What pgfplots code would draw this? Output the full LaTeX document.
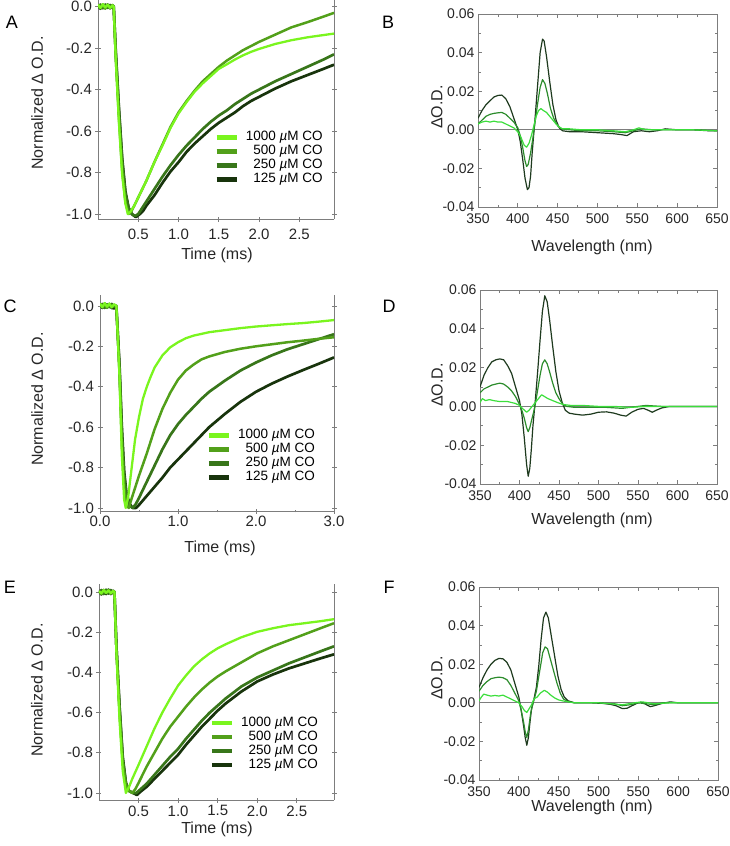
\documentclass[border=0pt]{standalone}
\usepackage{fontspec}
\setmainfont{Liberation Sans}
\usepackage{pgfplots}
\pgfplotsset{compat=1.18}

\definecolor{axgray}{RGB}{125,125,125}
\definecolor{c1000}{RGB}{122,245,30}
\definecolor{c500}{RGB}{82,160,26}
\definecolor{c250}{RGB}{56,118,26}
\definecolor{c125}{RGB}{24,52,12}
\definecolor{sdark}{RGB}{30,58,30}
\definecolor{smed}{RGB}{44,140,44}
\definecolor{sbright}{RGB}{60,222,60}

\pgfkeys{/pgf/number format/assume math mode=true}

\pgfplotsset{
  kin/.style={
    scale only axis,
    axis x line=bottom, axis y line=box,
    axis line style={-, draw=axgray, line width=0.9pt},
    tick style={axgray, line width=0.8pt},
    tick align=center, major tick length=5pt,
    ytick={-1,-0.8,-0.6,-0.4,-0.2,0},
    yticklabel style={/pgf/number format/fixed, /pgf/number format/fixed zerofill, /pgf/number format/precision=1},
    xticklabel style={/pgf/number format/fixed, /pgf/number format/fixed zerofill, /pgf/number format/precision=1},
    tick label style={font=\fontsize{15}{15}\selectfont, text=black!85},
    ylabel={Normalized Δ O.D.}, xlabel={Time (ms)},
    label style={font=\fontsize{16}{16}\selectfont, text=black!85},
    legend cell align=right, reverse legend,
    legend image code/.code={\draw[##1, line width=4.5pt] (0pt,0pt) -- (20pt,0pt);},
    every axis plot/.append style={line width=2.7pt, line join=round},
  },
  kinlegend/.style={
    legend style={at={(#1)}, anchor=north east, draw=none, fill=none,
      inner sep=0pt, row sep=0pt, font=\fontsize{13.5}{13.5}\selectfont,
      nodes={inner sep=0pt, text height=10pt, text depth=4pt},
      /tikz/every odd column/.append style={column sep=7pt}},
  },
  spec/.style={
    scale only axis,
    xmin=350, xmax=650, ymin=-0.04, ymax=0.06,
    xtick={350,400,...,650}, ytick={-0.04,-0.02,0,0.02,0.04,0.06},
    scaled y ticks=false,
    minor x tick num=1, minor y tick num=1,
    tick align=inside,
    axis line style={draw=axgray, line width=0.9pt},
    tick style={axgray, line width=0.7pt},
    major tick length=4pt, minor tick length=2.5pt,
    yticklabel style={/pgf/number format/fixed, /pgf/number format/fixed zerofill, /pgf/number format/precision=2},
    xticklabel style={yshift=-3pt},
    tick label style={font=\fontsize{14}{14}\selectfont, text=black!85},
    ylabel={ΔO.D.}, xlabel={Wavelength (nm)},
    label style={font=\fontsize{16}{16}\selectfont, text=black!85},
    every axis plot/.append style={line width=1.2pt, line join=round},
  },
}

\begin{document}
\begin{tikzpicture}
\useasboundingbox (0,0) rectangle (729pt,-846pt);

% ---------------- A : kinetics ----------------
\begin{axis}[kin, at={(98pt,-219pt)}, anchor=south west, width=236pt, height=219pt,
  xmin=0, xmax=2.93, ymin=-1.024, ymax=0.032,
  xtick={0.5,1,1.5,2,2.5}, xticklabel style={yshift=-4pt},
  xlabel style={at={(axis description cs:0.504,-0.164)}, anchor=center},
  ylabel style={at={(axis description cs:-0.258,0.53)}, anchor=center},
  kinlegend={0.953,0.406}]
\addplot[c125] coordinates {(0,0.008) (0.03,-0.01) (0.06,0.01) (0.09,-0.006) (0.12,0.01) (0.15,-0.008) (0.18,0.005) (0.195,0)
 (0.22,-0.21) (0.26,-0.49) (0.30,-0.73) (0.34,-0.89) (0.38,-0.97) (0.42,-1.0) (0.47,-1.015) (0.52,-1.0) (0.56,-0.985) (0.6,-0.96) (0.7,-0.91) (0.8,-0.85) (0.9,-0.795) (1.0,-0.75) (1.1,-0.70) (1.2,-0.66) (1.3,-0.625) (1.4,-0.59) (1.5,-0.56) (1.6,-0.535) (1.7,-0.51) (1.8,-0.48) (1.9,-0.455) (2.0,-0.435) (2.2,-0.395) (2.4,-0.36) (2.6,-0.33) (2.8,-0.30) (2.93,-0.28)};
\addlegendentry{125 \textit{µ}M CO}
\addplot[c250] coordinates {(0,-0.006) (0.03,0.01) (0.06,-0.008) (0.09,0.01) (0.12,-0.006) (0.15,0.008) (0.18,-0.004) (0.195,0)
 (0.22,-0.22) (0.26,-0.50) (0.30,-0.74) (0.34,-0.90) (0.38,-0.97) (0.42,-1.0) (0.46,-1.01) (0.5,-1.0) (0.55,-0.97) (0.6,-0.94) (0.7,-0.88) (0.8,-0.82) (0.9,-0.765) (1.0,-0.715) (1.1,-0.67) (1.2,-0.63) (1.3,-0.59) (1.4,-0.555) (1.5,-0.525) (1.6,-0.50) (1.7,-0.47) (1.8,-0.445) (1.9,-0.42) (2.0,-0.40) (2.2,-0.36) (2.4,-0.325) (2.6,-0.29) (2.8,-0.255) (2.93,-0.23)};
\addlegendentry{250 \textit{µ}M CO}
\addplot[c500, line width=2.5pt] coordinates {(0,0.006) (0.03,-0.008) (0.06,0.008) (0.09,-0.01) (0.12,0.006) (0.15,-0.006) (0.18,0.008) (0.195,0)
 (0.22,-0.24) (0.26,-0.54) (0.30,-0.79) (0.34,-0.94) (0.38,-1.0) (0.41,-0.99) (0.45,-0.96) (0.5,-0.92) (0.55,-0.88) (0.6,-0.84) (0.7,-0.75) (0.8,-0.665) (0.9,-0.58) (1.0,-0.51) (1.1,-0.455) (1.2,-0.405) (1.3,-0.36) (1.4,-0.325) (1.5,-0.29) (1.6,-0.26) (1.7,-0.235) (1.8,-0.21) (1.9,-0.19) (2.0,-0.17) (2.2,-0.135) (2.4,-0.10) (2.6,-0.075) (2.8,-0.048) (2.93,-0.03)};
\addlegendentry{500 \textit{µ}M CO}
\addplot[c1000, line width=2.3pt] coordinates {(0,0.01) (0.03,-0.006) (0.06,0.012) (0.09,-0.004) (0.12,0.01) (0.15,-0.006) (0.18,0.006) (0.195,0)
 (0.22,-0.25) (0.26,-0.56) (0.30,-0.81) (0.34,-0.95) (0.37,-1.0) (0.40,-0.99) (0.45,-0.96) (0.5,-0.92) (0.55,-0.88) (0.6,-0.84) (0.7,-0.75) (0.8,-0.67) (0.9,-0.585) (1.0,-0.515) (1.1,-0.46) (1.2,-0.41) (1.3,-0.37) (1.4,-0.335) (1.5,-0.30) (1.6,-0.278) (1.7,-0.255) (1.8,-0.235) (1.9,-0.218) (2.0,-0.204) (2.2,-0.18) (2.4,-0.162) (2.6,-0.148) (2.8,-0.137) (2.93,-0.13)};
\addlegendentry{1000 \textit{µ}M CO}
\end{axis}

% ---------------- B : spectra ----------------
\begin{axis}[spec, at={(478pt,-207pt)}, anchor=south west, width=239pt, height=193pt,
  xlabel style={at={(axis description cs:0.477,-0.207)}, anchor=center},
  ylabel style={at={(axis description cs:-0.172,0.518)}, anchor=center}]
\addplot[axgray, line width=1pt] coordinates {(350,0) (650,0)};
\addplot[sdark] coordinates {(350,0.006) (355,0.010) (360,0.013) (365,0.015) (370,0.017) (375,0.0178) (380,0.018) (385,0.016) (390,0.012) (395,0.006) (400,0.0) (403,-0.006) (406,-0.015) (409,-0.025) (412,-0.031) (414,-0.030) (416,-0.024) (418,-0.012) (420,-0.002) (422,0.008) (425,0.024) (428,0.040) (431,0.047) (433,0.046) (436,0.038) (440,0.025) (444,0.013) (448,0.005) (452,0.001) (456,-0.0005) (465,-0.001) (480,-0.001) (500,-0.0015) (520,-0.002) (530,-0.0025) (537,-0.003) (545,-0.001) (555,-0.0005) (565,-0.001) (575,-0.0005) (585,0.0005) (600,0.0) (620,0.0) (640,-0.0005) (650,-0.0005)};
\addplot[smed] coordinates {(350,0.003) (355,0.005) (360,0.007) (365,0.008) (370,0.0085) (375,0.0088) (380,0.009) (385,0.008) (390,0.006) (395,0.004) (400,0.001) (403,-0.003) (406,-0.009) (409,-0.016) (411,-0.019) (413,-0.018) (416,-0.012) (419,-0.004) (422,0.005) (425,0.014) (428,0.022) (431,0.026) (434,0.024) (437,0.019) (441,0.011) (445,0.006) (450,0.002) (455,0.0005) (465,0.0) (480,-0.0005) (500,-0.0005) (520,-0.001) (535,-0.0015) (545,-0.0005) (555,0.0005) (570,0.0) (590,0.0) (620,0.0) (650,-0.0005)};
\addplot[sbright] coordinates {(350,0.003) (355,0.004) (360,0.0045) (365,0.004) (370,0.0045) (375,0.004) (380,0.004) (385,0.003) (390,0.002) (395,0.001) (400,-0.001) (404,-0.004) (408,-0.008) (411,-0.009) (414,-0.007) (417,-0.003) (420,0.002) (423,0.007) (426,0.010) (429,0.011) (432,0.010) (436,0.009) (440,0.007) (444,0.005) (448,0.003) (452,0.0015) (456,0.0005) (465,0.0005) (480,0.0) (500,0.0) (520,-0.0005) (535,-0.001) (545,0.0) (552,0.001) (560,0.0) (580,0.0) (600,0.0) (620,0.0) (650,-0.0005)};
\end{axis}

% ---------------- C : kinetics ----------------
\begin{axis}[kin, at={(100pt,-511pt)}, anchor=south west, width=234pt, height=216pt,
  xmin=0, xmax=3.0, ymin=-1.015, ymax=0.054,
  xtick={0,1,2,3}, minor x tick num=1, xticklabel style={yshift=1pt},
  xlabel style={at={(axis description cs:0.513,-0.171)}, anchor=center},
  ylabel style={at={(axis description cs:-0.269,0.518)}, anchor=center},
  kinlegend={0.919,0.384}]
\addplot[c125] coordinates {(0,0.01) (0.03,-0.01) (0.06,0.012) (0.09,-0.008) (0.12,0.01) (0.15,-0.01) (0.18,-0.012) (0.21,-0.01)
 (0.25,-0.29) (0.28,-0.6) (0.31,-0.82) (0.34,-0.93) (0.38,-0.98) (0.42,-1.0) (0.46,-1.0) (0.5,-0.985) (0.6,-0.94) (0.7,-0.895) (0.8,-0.85) (0.9,-0.80) (1.0,-0.76) (1.1,-0.72) (1.2,-0.68) (1.3,-0.64) (1.4,-0.60) (1.6,-0.535) (1.8,-0.475) (2.0,-0.425) (2.2,-0.385) (2.4,-0.35) (2.6,-0.318) (2.8,-0.287) (3.0,-0.255)};
\addlegendentry{125 \textit{µ}M CO}
\addplot[c250] coordinates {(0,-0.008) (0.03,0.01) (0.06,-0.01) (0.09,0.008) (0.12,-0.006) (0.15,0.01) (0.18,-0.006) (0.21,0)
 (0.25,-0.31) (0.28,-0.62) (0.31,-0.84) (0.34,-0.94) (0.38,-0.99) (0.42,-1.0) (0.46,-0.98) (0.5,-0.95) (0.6,-0.87) (0.7,-0.79) (0.8,-0.71) (0.9,-0.64) (1.0,-0.585) (1.1,-0.54) (1.2,-0.50) (1.3,-0.46) (1.4,-0.425) (1.6,-0.37) (1.8,-0.32) (2.0,-0.28) (2.2,-0.245) (2.4,-0.215) (2.6,-0.19) (2.8,-0.165) (3.0,-0.14)};
\addlegendentry{250 \textit{µ}M CO}
\addplot[c500, line width=2.5pt] coordinates {(0,0.006) (0.03,-0.008) (0.06,0.01) (0.09,-0.01) (0.12,0.008) (0.15,-0.008) (0.18,0.006) (0.21,0)
 (0.25,-0.33) (0.28,-0.68) (0.31,-0.9) (0.34,-0.99) (0.37,-1.0) (0.4,-0.96) (0.45,-0.9) (0.5,-0.84) (0.6,-0.73) (0.7,-0.61) (0.8,-0.51) (0.9,-0.43) (1.0,-0.365) (1.1,-0.32) (1.2,-0.29) (1.3,-0.265) (1.4,-0.25) (1.6,-0.228) (1.8,-0.212) (2.0,-0.20) (2.2,-0.19) (2.4,-0.18) (2.6,-0.172) (2.8,-0.163) (3.0,-0.155)};
\addlegendentry{500 \textit{µ}M CO}
\addplot[c1000, line width=2.3pt] coordinates {(0,0.012) (0.03,-0.006) (0.06,0.014) (0.09,-0.004) (0.12,0.012) (0.15,-0.006) (0.18,0.008) (0.21,0)
 (0.25,-0.35) (0.28,-0.74) (0.31,-0.96) (0.33,-1.0) (0.36,-0.95) (0.4,-0.82) (0.45,-0.66) (0.5,-0.55) (0.55,-0.46) (0.6,-0.40) (0.65,-0.35) (0.7,-0.305) (0.8,-0.245) (0.9,-0.205) (1.0,-0.18) (1.1,-0.16) (1.2,-0.147) (1.4,-0.13) (1.6,-0.12) (1.8,-0.11) (2.0,-0.102) (2.2,-0.096) (2.4,-0.09) (2.6,-0.085) (2.8,-0.078) (3.0,-0.07)};
\addlegendentry{1000 \textit{µ}M CO}
\end{axis}

% ---------------- D : spectra ----------------
\begin{axis}[spec, at={(480pt,-484pt)}, anchor=south west, width=237pt, height=194pt,
  xlabel style={at={(axis description cs:0.473,-0.186)}, anchor=center},
  ylabel style={at={(axis description cs:-0.181,0.51)}, anchor=center}]
\addplot[axgray, line width=1pt] coordinates {(350,0) (650,0)};
\addplot[sdark] coordinates {(350,0.010) (355,0.016) (360,0.020) (365,0.023) (370,0.024) (375,0.0245) (380,0.024) (385,0.021) (390,0.017) (395,0.010) (400,0.003) (403,-0.004) (406,-0.016) (409,-0.030) (411,-0.036) (413,-0.032) (415,-0.022) (417,-0.010) (420,0.003) (423,0.018) (426,0.034) (429,0.049) (432,0.057) (435,0.054) (438,0.045) (442,0.031) (446,0.018) (450,0.008) (454,0.002) (458,-0.002) (463,-0.0035) (470,-0.004) (480,-0.0045) (490,-0.004) (500,-0.003) (510,-0.0028) (520,-0.0035) (528,-0.0045) (535,-0.005) (542,-0.003) (550,-0.0015) (557,-0.001) (563,-0.002) (568,-0.003) (573,-0.002) (580,-0.0008) (590,0.0) (600,0.0) (620,0.0) (650,0.0)};
\addplot[smed] coordinates {(350,0.007) (355,0.009) (360,0.010) (365,0.011) (370,0.0115) (375,0.012) (380,0.0115) (385,0.010) (390,0.008) (395,0.005) (400,0.001) (403,-0.002) (406,-0.006) (409,-0.011) (411,-0.013) (413,-0.011) (416,-0.006) (419,-0.001) (422,0.006) (426,0.016) (429,0.022) (432,0.024) (435,0.022) (438,0.018) (442,0.012) (446,0.007) (450,0.004) (455,0.001) (460,0.0) (470,-0.0005) (490,-0.0005) (510,-0.0005) (530,-0.001) (550,0.0) (560,0.0005) (580,0.0) (600,0.0) (650,0.0)};
\addplot[sbright] coordinates {(350,0.002) (353,0.004) (357,0.003) (362,0.0035) (367,0.003) (375,0.0025) (385,0.0025) (395,0.0015) (400,0.0005) (405,-0.0015) (409,-0.003) (412,-0.002) (416,0.0) (420,0.002) (424,0.004) (428,0.006) (432,0.005) (436,0.004) (442,0.003) (448,0.002) (455,0.001) (465,0.0005) (480,0.0005) (500,0.0) (520,0.0) (540,-0.0005) (560,0.0) (580,0.0) (600,0.0) (650,0.0)};
\end{axis}

% ---------------- E : kinetics ----------------
\begin{axis}[kin, at={(99pt,-800pt)}, anchor=south west, width=235pt, height=216pt,
  xmin=0, xmax=2.97, ymin=-1.035, ymax=0.04,
  xtick={0.5,1,1.5,2,2.5}, xticklabel style={yshift=0.5pt},
  xlabel style={at={(axis description cs:0.502,-0.137)}, anchor=center},
  ylabel style={at={(axis description cs:-0.264,0.509)}, anchor=center},
  kinlegend={0.932,0.389}]
\addplot[c125] coordinates {(0,0.01) (0.03,-0.012) (0.06,0.01) (0.09,-0.01) (0.12,0.012) (0.15,-0.01) (0.18,0.006) (0.195,0)
 (0.22,-0.27) (0.26,-0.57) (0.3,-0.82) (0.34,-0.95) (0.38,-0.99) (0.43,-1.0) (0.48,-1.01) (0.52,-0.995) (0.6,-0.97) (0.7,-0.93) (0.8,-0.89) (0.9,-0.85) (1.0,-0.81) (1.1,-0.76) (1.2,-0.715) (1.3,-0.67) (1.4,-0.63) (1.5,-0.59) (1.6,-0.555) (1.8,-0.495) (2.0,-0.445) (2.2,-0.41) (2.4,-0.38) (2.6,-0.355) (2.8,-0.33) (2.97,-0.31)};
\addlegendentry{125 \textit{µ}M CO}
\addplot[c250] coordinates {(0,-0.008) (0.03,0.01) (0.06,-0.01) (0.09,0.012) (0.12,-0.008) (0.15,0.01) (0.18,-0.006) (0.195,0)
 (0.22,-0.27) (0.26,-0.58) (0.3,-0.83) (0.34,-0.95) (0.38,-0.99) (0.43,-1.0) (0.47,-1.0) (0.5,-0.99) (0.6,-0.955) (0.7,-0.91) (0.8,-0.865) (0.9,-0.82) (1.0,-0.78) (1.1,-0.73) (1.2,-0.685) (1.3,-0.64) (1.4,-0.60) (1.5,-0.565) (1.6,-0.53) (1.8,-0.47) (2.0,-0.425) (2.2,-0.39) (2.4,-0.355) (2.6,-0.325) (2.8,-0.295) (2.97,-0.27)};
\addlegendentry{250 \textit{µ}M CO}
\addplot[c500, line width=2.5pt] coordinates {(0,0.006) (0.03,-0.01) (0.06,0.008) (0.09,-0.006) (0.12,0.01) (0.15,-0.008) (0.18,0.004) (0.195,0)
 (0.22,-0.28) (0.26,-0.6) (0.3,-0.85) (0.34,-0.96) (0.38,-0.99) (0.42,-1.0) (0.46,-0.98) (0.5,-0.95) (0.6,-0.87) (0.7,-0.80) (0.8,-0.73) (0.9,-0.67) (1.0,-0.62) (1.1,-0.57) (1.2,-0.525) (1.3,-0.485) (1.4,-0.45) (1.5,-0.42) (1.6,-0.395) (1.8,-0.35) (2.0,-0.305) (2.2,-0.27) (2.4,-0.24) (2.6,-0.21) (2.8,-0.18) (2.97,-0.155)};
\addlegendentry{500 \textit{µ}M CO}
\addplot[c1000, line width=2.3pt] coordinates {(0,0.004) (0.03,-0.006) (0.06,0.01) (0.09,-0.004) (0.12,0.008) (0.15,-0.006) (0.18,0.006) (0.195,0)
 (0.22,-0.3) (0.26,-0.64) (0.3,-0.89) (0.34,-1.0) (0.38,-0.97) (0.42,-0.93) (0.5,-0.86) (0.6,-0.77) (0.7,-0.68) (0.8,-0.60) (0.9,-0.53) (1.0,-0.465) (1.1,-0.415) (1.2,-0.37) (1.3,-0.335) (1.4,-0.305) (1.5,-0.28) (1.6,-0.26) (1.8,-0.225) (2.0,-0.198) (2.2,-0.18) (2.4,-0.165) (2.6,-0.155) (2.8,-0.145) (2.97,-0.135)};
\addlegendentry{1000 \textit{µ}M CO}
\end{axis}

% ---------------- F : spectra ----------------
\begin{axis}[spec, at={(479pt,-780pt)}, anchor=south west, width=239pt, height=193pt,
  xlabel style={at={(axis description cs:0.473,-0.14)}, anchor=center},
  ylabel style={at={(axis description cs:-0.176,0.528)}, anchor=center}]
\addplot[axgray, line width=1pt] coordinates {(350,0) (650,0)};
\addplot[sdark] coordinates {(350,0.008) (355,0.013) (360,0.017) (365,0.020) (370,0.022) (375,0.023) (380,0.0228) (385,0.021) (390,0.017) (395,0.010) (400,0.003) (403,-0.004) (406,-0.012) (408,-0.018) (410,-0.022) (412,-0.018) (414,-0.010) (416,-0.003) (419,0.002) (422,0.008) (425,0.019) (428,0.033) (431,0.044) (434,0.047) (437,0.044) (441,0.034) (445,0.024) (449,0.014) (453,0.007) (457,0.003) (462,0.001) (470,0.0) (490,0.0) (505,-0.0003) (515,-0.0008) (522,-0.0015) (530,-0.003) (536,-0.0028) (542,-0.0015) (548,-0.0003) (553,0.0003) (558,-0.0005) (565,-0.002) (570,-0.0015) (580,-0.0003) (590,0.0005) (600,0.0) (650,0.0)};
\addplot[smed] coordinates {(350,0.006) (355,0.009) (360,0.011) (365,0.0125) (370,0.013) (375,0.0133) (380,0.013) (385,0.012) (390,0.009) (395,0.005) (400,0.001) (403,-0.004) (406,-0.010) (408,-0.015) (410,-0.018) (412,-0.014) (415,-0.005) (418,0.0) (422,0.006) (426,0.016) (430,0.026) (433,0.029) (436,0.028) (440,0.022) (444,0.016) (448,0.010) (452,0.005) (456,0.002) (462,0.0005) (470,0.0) (500,0.0) (520,-0.0005) (530,-0.0015) (540,-0.001) (550,0.0) (560,-0.0005) (570,-0.001) (580,0.0) (600,0.0) (650,0.0)};
\addplot[sbright] coordinates {(350,0.001) (353,0.003) (356,0.0045) (360,0.004) (365,0.0035) (370,0.0038) (375,0.0035) (380,0.004) (385,0.003) (390,0.002) (395,0.001) (400,0.0) (404,-0.002) (407,-0.004) (410,-0.005) (413,-0.003) (416,-0.001) (419,0.002) (423,0.003) (427,0.005) (432,0.0065) (436,0.0055) (440,0.004) (445,0.0025) (450,0.0015) (455,0.001) (462,0.0005) (470,0.0) (500,0.0) (530,-0.001) (545,0.0) (555,0.0005) (570,-0.0005) (590,0.0) (620,0.0) (650,0.0)};
\end{axis}

% panel letters
\node[font=\fontsize{18}{18}\selectfont] at (12pt,-22pt) {A};
\node[font=\fontsize{18}{18}\selectfont] at (388pt,-22pt) {B};
\node[font=\fontsize{18}{18}\selectfont] at (10pt,-306pt) {C};
\node[font=\fontsize{18}{18}\selectfont] at (389pt,-306pt) {D};
\node[font=\fontsize{18}{18}\selectfont] at (10pt,-587pt) {E};
\node[font=\fontsize{18}{18}\selectfont] at (389pt,-587pt) {F};
\end{tikzpicture}
\end{document}
